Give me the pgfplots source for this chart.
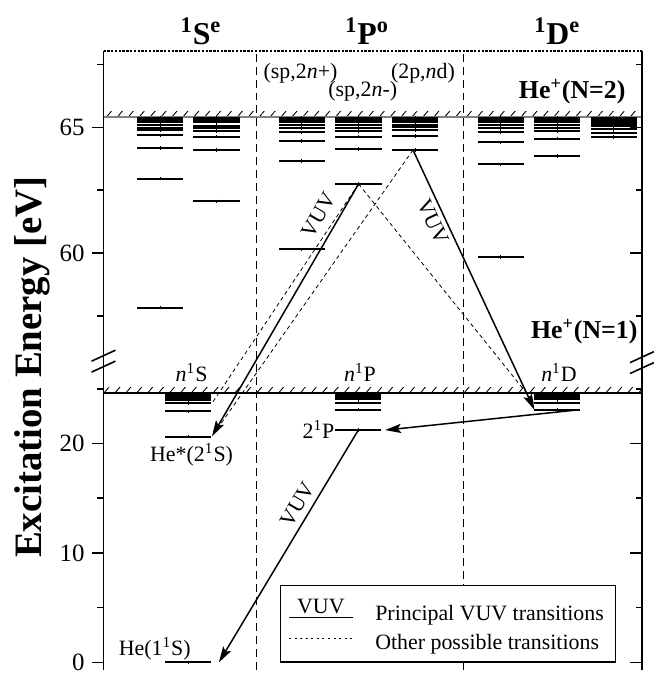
\documentclass[border=0pt]{standalone}
\usepackage{pgfplots}
\pgfplotsset{compat=1.18}
\usepackage{fontspec}
\setmainfont{Liberation Serif}
\usetikzlibrary{arrows.meta,patterns.meta}
\newcommand\fs{\fontsize{11}{13}\selectfont}
\begin{document}
\begin{tikzpicture}
\pgfplotsset{
  brk/.style={
    width=270.5pt, height=311pt, scale only axis,
    xmin=104, xmax=645, ymin=-0.66, ymax=68.043,
    y coord trafo/.code={\pgfmathparse{##1>40?48.88+(##1-65)*2.3:##1}},
    y coord inv trafo/.code={\pgfmathparse{##1>27.5?65+(##1-48.88)/2.3:##1}},
    xtick=\empty,
    ytick={0,10,20,60,65},
    minor ytick={5,15,25,57.5,62.5,67.5},
    major tick length=6pt, minor tick length=3.2pt,
    every tick/.append style={black, line width=0.8pt},
    axis line style={draw=none},
    clip=false,
  },
  lev/.style={black, only marks, mark=|, mark size=0.9pt, mark options={line width=0.4pt},
    forget plot,
    error bars/.cd, x dir=both, x fixed=23.3, error mark=none,
    error bar style={line width=1pt, black}},
  sol/.style={black, line width=0.75pt, forget plot, -{Stealth[length=8pt,width=4.6pt,inset=1.6pt]}},
  dsh/.style={black, line width=0.4pt, forget plot, dash pattern=on 2pt off 1.6pt},
}
% right-side ticks (inside)
\begin{axis}[brk, tick align=inside, ytick pos=right, yticklabels={}, yticklabel style={inner sep=0pt}]
\addplot[draw=none, forget plot] coordinates {(104,0)};
\end{axis}
\begin{axis}[brk, tick align=outside, ytick pos=left,
  yticklabels={0,10,20,60,65},
  yticklabel style={font=\fontsize{12.5}{14}\selectfont},
  legend style={at={(rel axis cs:0.9527,0.0113)}, anchor=south east, draw=black, line width=0.6pt,
    fill=white, font=\fs, inner xsep=4pt, inner ysep=5pt, row sep=0.5pt, column sep=9pt,
    nodes={text height=11.5pt, text depth=0.5pt, inner ysep=1pt}},
  legend cell align=left]
\addlegendimage{legend image code/.code={
  \draw[line width=0.7pt] (0pt,-4pt) -- (32pt,-4pt);
  \node[anchor=center, inner sep=0pt, text height=, text depth=, font=\fs] at (16pt,1.5pt) {VUV};}}
\addlegendentry{Principal VUV transitions}
\addlegendimage{legend image code/.code={
  \draw[line width=0.5pt, dash pattern=on 1pt off 1.8pt] (0pt,0pt) -- (32pt,0pt);}}
\addlegendentry{Other possible transitions}

% separators
\addplot[black, line width=0.45pt, dash pattern=on 4pt off 2.5pt, forget plot] coordinates {(258,-0.66) (258,68.043)};
\addplot[black, line width=0.45pt, dash pattern=on 4pt off 2.5pt, forget plot] coordinates {(466,-0.66) (466,68.043)};

% thresholds
\addplot[draw=none, forget plot, pattern={Lines[angle=50,distance=4.2pt,line width=0.45pt]}] coordinates {(104,65.4) (645,65.4) (645,65.64) (104,65.64)} -- cycle;
\addplot[gray, line width=1pt, forget plot] coordinates {(104,65.4) (645,65.4)};
\addplot[draw=none, forget plot, pattern={Lines[angle=50,distance=4.2pt,line width=0.45pt]}] coordinates {(104,24.59) (645,24.59) (645,25.14) (104,25.14)} -- cycle;
\addplot[black, line width=0.8pt, forget plot] coordinates {(104,24.59) (645,24.59)};

% upper levels
\addplot[lev] coordinates {(160.8,57.84) (160.8,62.96) (160.8,64.18) (160.8,64.68) (160.8,64.88) (160.8,64.97) (160.8,65.09)
  (160.8,65.20) (160.8,65.23) (160.8,65.26) (160.8,65.29) (160.8,65.32) (160.8,65.35) (160.8,65.38)};
\addplot[lev] coordinates {(217.7,62.06) (217.7,64.09) (217.7,64.63) (217.7,64.85) (217.7,64.97) (217.7,65.07)
  (217.7,65.20) (217.7,65.23) (217.7,65.26) (217.7,65.29) (217.7,65.32) (217.7,65.35) (217.7,65.38)};
\addplot[lev] coordinates {(303.3,60.15) (303.3,63.66) (303.3,64.46) (303.3,64.80) (303.3,64.98) (303.3,65.09)
  (303.3,65.20) (303.3,65.23) (303.3,65.26) (303.3,65.29) (303.3,65.32) (303.3,65.35) (303.3,65.38)};
\addplot[lev] coordinates {(360.3,62.75) (360.3,64.13) (360.3,64.63) (360.3,64.85) (360.3,64.98) (360.3,65.08)
  (360.3,65.20) (360.3,65.23) (360.3,65.26) (360.3,65.29) (360.3,65.32) (360.3,65.35) (360.3,65.38)};
\addplot[lev] coordinates {(417,64.10) (417,64.66) (417,64.88) (417,65.00) (417,65.09)
  (417,65.20) (417,65.23) (417,65.26) (417,65.29) (417,65.32) (417,65.35) (417,65.38)};
\addplot[lev] coordinates {(503.3,59.85) (503.3,63.53) (503.3,64.40) (503.3,64.81) (503.3,64.96) (503.3,65.08)
  (503.3,65.20) (503.3,65.23) (503.3,65.26) (503.3,65.29) (503.3,65.32) (503.3,65.35) (503.3,65.38)};
\addplot[lev] coordinates {(560,63.85) (560,64.55) (560,64.85) (560,64.99) (560,65.09)
  (560,65.20) (560,65.23) (560,65.26) (560,65.29) (560,65.32) (560,65.35) (560,65.38)};
\addplot[lev] coordinates {(616.7,64.62) (616.7,64.79) (616.7,64.93) (616.7,65.05)
  (616.7,65.14) (616.7,65.20) (616.7,65.23) (616.7,65.26) (616.7,65.29) (616.7,65.32) (616.7,65.35) (616.7,65.38)};

% lower levels
\addplot[lev] coordinates {(189,0) (189,20.62) (189,22.92) (189,23.67) (189,24.01) (189,24.19) (189,24.30) (189,24.37)
  (189,24.42) (189,24.46) (189,24.49) (189,24.52) (189,24.55)};
\addplot[lev] coordinates {(360,21.22) (360,23.09) (360,23.74) (360,24.05) (360,24.21) (360,24.31) (360,24.37)
  (360,24.42) (360,24.46) (360,24.49) (360,24.52) (360,24.55)};
\addplot[lev] coordinates {(560,23.07) (560,23.74) (560,24.04) (560,24.21) (560,24.31) (560,24.37)
  (560,24.42) (560,24.46) (560,24.49) (560,24.52) (560,24.55)};

% transitions
\addplot[dsh] coordinates {(360.3,62.75) (213,23.67)};
\addplot[dsh] coordinates {(415,64.10) (213,20.65)};
\addplot[dsh] coordinates {(360.3,62.75) (536.7,23.74)};
\addplot[sol] coordinates {(360.3,62.75) (213,20.65)};
\addplot[sol] coordinates {(415,64.10) (537,23.07)};
\addplot[sol] coordinates {(581,23.07) (387,21.22)};
\addplot[sol] coordinates {(360,21.22) (220,0)};

% frame
\draw[line width=1pt] (rel axis cs:0,0) -- (rel axis cs:0,1);
\draw[line width=1pt] (rel axis cs:1,0) -- (rel axis cs:1,1);
\draw[line width=1.1pt, dash pattern=on 1.2pt off 0.7pt] (rel axis cs:0,1) -- (rel axis cs:1,1);
\draw[line width=0.8pt] ([shift={(-6pt,0pt)}]rel axis cs:0,0.4984) -- ++(12pt,5.5pt);
\draw[line width=0.8pt] ([shift={(-6pt,-5.5pt)}]rel axis cs:0,0.4984) -- ++(12pt,5.5pt);
\draw[line width=0.8pt] ([shift={(-6pt,0pt)}]rel axis cs:1,0.496) -- ++(12pt,5.5pt);
\draw[line width=0.8pt] ([shift={(-6pt,-5.5pt)}]rel axis cs:1,0.496) -- ++(12pt,5.5pt);

% texts
\node[anchor=base, font=\fontsize{16}{18}\bfseries] at (rel axis cs:0.1811,1.0096) {\textsuperscript{1}S\textsuperscript{e}};
\node[anchor=base, font=\fontsize{16}{18}\bfseries] at (rel axis cs:0.4898,1.0096) {\textsuperscript{1}P\textsuperscript{o}};
\node[anchor=base, font=\fontsize{16}{18}\bfseries] at (rel axis cs:0.8429,1.0096) {\textsuperscript{1}D\textsuperscript{e}};
\node[font=\fs] at (rel axis cs:0.366,0.9637) {(sp,2\textit{n}+)};
\node[font=\fs] at (rel axis cs:0.4815,0.9341) {(sp,2\textit{n}-)};
\node[font=\fs] at (rel axis cs:0.5933,0.9637) {(2p,\textit{n}d)};
\node[font=\fontsize{13}{15}\bfseries] at (rel axis cs:0.8706,0.9341) {He\textsuperscript{+}(N=2)};
\node[font=\fontsize{13}{15}\bfseries] at (rel axis cs:0.893,0.5466) {He\textsuperscript{+}(N=1)};
\node[font=\fs] at (rel axis cs:0.1636,0.4807) {\textit{n}\textsuperscript{1}S};
\node[font=\fs] at (rel axis cs:0.4764,0.4807) {\textit{n}\textsuperscript{1}P};
\node[font=\fs] at (rel axis cs:0.846,0.4807) {\textit{n}\textsuperscript{1}D};
\node[font=\fs] at (rel axis cs:0.1636,0.3465) {He*(2\textsuperscript{1}S)};
\node[font=\fs] at (rel axis cs:0.3993,0.388) {2\textsuperscript{1}P};
\node[font=\fs] at (rel axis cs:0.0952,0.0338) {He(1\textsuperscript{1}S)};
\node[font=\fs, rotate=59.8, inner sep=0pt] at (rel axis cs:0.399,0.7345) {VUV};
\node[font=\fs, rotate=-65, inner sep=0pt] at (rel axis cs:0.6118,0.7235) {VUV};
\node[font=\fs, rotate=59, inner sep=0pt] at (rel axis cs:0.3600,0.2669) {VUV};
\node[rotate=90, font=\fontsize{19.5}{22}\bfseries] at (rel axis cs:-0.133,0.4887) {Excitation Energy [eV]};
\coordinate (bbll) at (rel axis cs:-0.19224,-0.0055);
\coordinate (bbur) at (rel axis cs:1.02588,1.08199);
\end{axis}
\pgfresetboundingbox
\path (bbll) rectangle (bbur);
\end{tikzpicture}
\end{document}
